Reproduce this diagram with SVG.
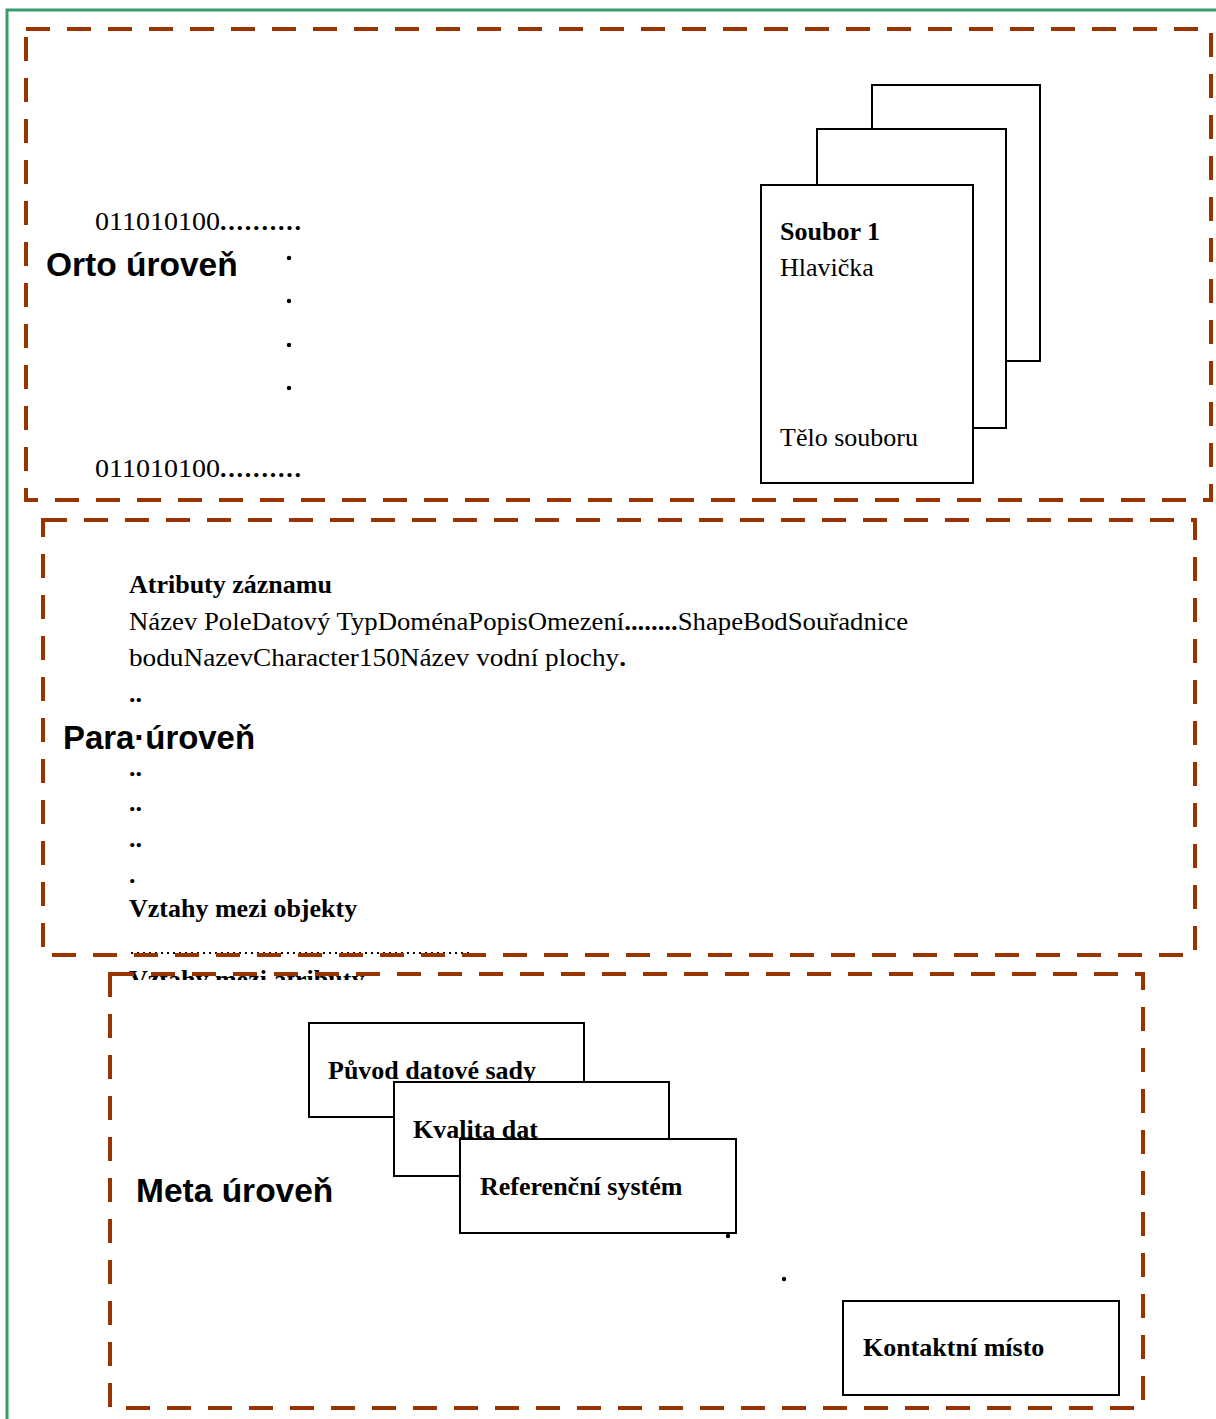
<svg xmlns="http://www.w3.org/2000/svg" width="1216" height="1419" viewBox="0 0 1216 1419">
<defs>
<style>
.frame{fill:none;stroke:#993300;stroke-width:4;stroke-dasharray:24 17}
.box{fill:#fff;stroke:#000;stroke-width:2}
.serif{font-family:"Liberation Serif","Times New Roman",serif;font-size:26px;fill:#000}
.b{font-weight:bold}
.lvl{font-family:"Liberation Sans",Arial,sans-serif;font-weight:bold;font-size:33.5px;fill:#000}
.dot{fill:#000}
</style>
<clipPath id="clipAttr"><rect x="100" y="955" width="400" height="25"/></clipPath>
</defs>
<rect width="1216" height="1419" fill="#fff"/>
<path d="M7 1419 V10 H1216" fill="none" stroke="#3a9a6a" stroke-width="3"/>

<g id="orto">
<text class="serif" x="95" y="230" textLength="125" lengthAdjust="spacingAndGlyphs">011010100</text>
<text class="serif b" x="220" y="230" textLength="81" lengthAdjust="spacing">..........</text>
<text class="lvl" x="46" y="276">Orto úroveň</text>
<circle class="dot" cx="289" cy="258" r="2.2"/>
<circle class="dot" cx="289" cy="301" r="2.2"/>
<circle class="dot" cx="289" cy="345" r="2.2"/>
<circle class="dot" cx="289" cy="388" r="2.2"/>
<text class="serif" x="95" y="477" textLength="125" lengthAdjust="spacingAndGlyphs">011010100</text>
<text class="serif b" x="220" y="477" textLength="81" lengthAdjust="spacing">..........</text>
</g>

<g id="files">
<rect class="box" x="872" y="85" width="168" height="276"/>
<rect class="box" x="817" y="129" width="189" height="299"/>
<rect class="box" x="761" y="185" width="212" height="298"/>
<text class="serif b" x="780" y="240">Soubor 1</text>
<text class="serif" x="780" y="276">Hlavička</text>
<text class="serif" x="780" y="446">Tělo souboru</text>
</g>

<g id="para">
<text class="serif b" x="129" y="593">Atributy záznamu</text>
<text class="serif" x="129" y="630" textLength="779" lengthAdjust="spacingAndGlyphs">Název PoleDatový TypDoménaPopisOmezení<tspan class="b">........</tspan>ShapeBodSouřadnice</text>
<text class="serif" x="129" y="666" textLength="497" lengthAdjust="spacingAndGlyphs">boduNazevCharacter150Název vodní plochy<tspan class="b">.</tspan></text>
<text class="serif b" x="129" y="702">..</text>
<text class="lvl" x="63" y="749" textLength="192" lengthAdjust="spacingAndGlyphs">Para·úroveň</text>
<text class="serif b" x="129" y="776">..</text>
<text class="serif b" x="129" y="811">..</text>
<text class="serif b" x="129" y="847">..</text>
<text class="serif b" x="129" y="883">.</text>
<text class="serif b" x="129" y="917">Vztahy mezi objekty</text>
<line x1="131" y1="953" x2="470" y2="953" stroke="#000" stroke-width="2" stroke-dasharray="2 4"/>
<text class="serif b" x="129" y="988" clip-path="url(#clipAttr)">Vztahy mezi atributy</text>
</g>

<g id="meta">
<text class="lvl" x="136" y="1202">Meta úroveň</text>
<g id="puvod">
<rect class="box" x="309" y="1023" width="275" height="94"/>
<text class="serif b" x="328" y="1079">Původ datové sady</text>
</g>
<g id="kvalita">
<rect class="box" x="394" y="1082" width="275" height="94"/>
<text class="serif b" x="413" y="1138">Kvalita dat</text>
</g>
<g id="referencni">
<rect class="box" x="460" y="1139" width="276" height="94"/>
<text class="serif b" x="480" y="1195">Referenční systém</text>
</g>
<circle class="dot" cx="728" cy="1236" r="2.2"/>
<circle class="dot" cx="784" cy="1279" r="2.2"/>
<g id="kontakt">
<rect class="box" x="843" y="1301" width="276" height="94"/>
<text class="serif b" x="863" y="1356">Kontaktní místo</text>
</g>
</g>

<g id="frames">
<rect class="frame" x="26" y="29" width="1185" height="471"/>
<rect class="frame" x="43" y="520" width="1152" height="435"/>
<rect class="frame" x="110" y="974" width="1033" height="434"/>
</g>
</svg>
